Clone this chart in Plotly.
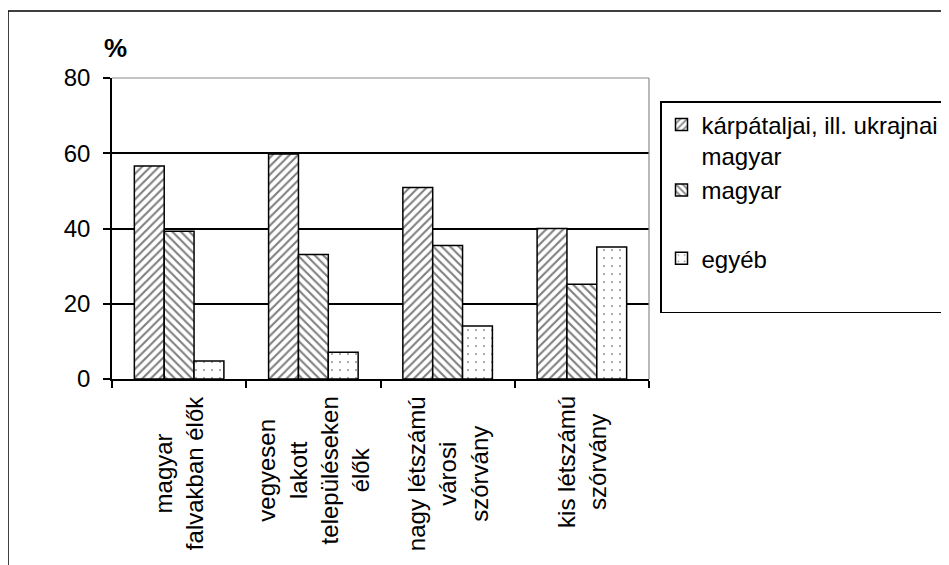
import plotly.graph_objects as go

# ---- data ----
categories = [
    "magyar<br>falvakban élők",
    "vegyesen<br>lakott<br>településeken<br>élők",
    "nagy létszámú<br>városi<br>szórvány",
    "kis létszámú<br>szórvány",
]
series_names = ["kárpátaljai, ill. ukrajnai<br>magyar", "magyar", "egyéb<br> "]
karpataljai = [56.6, 59.8, 50.9, 40.0]
magyar = [39.3, 33.1, 35.5, 25.2]
egyeb = [4.8, 7.1, 14.1, 35.1]
y_ticks = [0, 20, 40, 60, 80]

FONT = "Liberation Sans, Arial, sans-serif"
W, H = 949, 565
OFF = 8  # page body margin offset
# plot area in reference pixel coords: x 112..649, y 78..379
PX0, PX1, PY0, PY1 = 112, 649, 78, 379
PW, PH = PX1 - PX0, PY1 - PY0
L, T = PX0 - OFF, PY0 - OFF
R, B = W - L - PW, H - T - PH

def px_x(px):
    return (px - PX0) / PW

def px_y(py):
    return (PY1 - py) / PH

patterns = [
    dict(shape="/", fgcolor="black", bgcolor="white", size=6, solidity=0.35),
    dict(shape="\\", fgcolor="black", bgcolor="white", size=6, solidity=0.35),
    dict(shape=".", fgcolor="#222", bgcolor="white", size=8, solidity=0.05),
]
values = [karpataljai, magyar, egyeb]
groups = ["g1", "g1", "g2"]

fig = go.Figure()
for name, vals, pat, grp in zip(series_names, values, patterns, groups):
    fig.add_trace(go.Bar(
        x=categories, y=vals, name=name, legendgroup=grp,
        marker=dict(color="white", pattern=pat, line=dict(color="black", width=1.5)),
    ))

# x-axis category labels (rotated, centered lines)
for c in categories:
    fig.add_annotation(
        x=c, y=0, xref="x", yref="y", text=c, showarrow=False,
        textangle=-90, align="center", xanchor="center", yanchor="top",
        yshift=-15, font=dict(family=FONT, size=24, color="black"),
    )

# "%" label
fig.add_annotation(
    x=px_x(115), y=px_y(48), xref="paper", yref="paper", text="<b>%</b>",
    showarrow=False, xanchor="center", yanchor="middle",
    font=dict(family=FONT, size=26, color="black"),
)

shapes = [
    # outer chart border
    dict(type="rect", xref="paper", yref="paper", x0=px_x(8), x1=2, y0=-1, y1=px_y(11),
         line=dict(color="black", width=1.5), fillcolor="rgba(0,0,0,0)", layer="below"),
    # plot area frame (top / right, gray)
    dict(type="line", xref="paper", yref="paper", x0=0, x1=1, y0=1, y1=1,
         line=dict(color="#8a8a8a", width=1.2), layer="above"),
    dict(type="line", xref="paper", yref="paper", x0=1, x1=1, y0=0, y1=1,
         line=dict(color="#8a8a8a", width=1.2), layer="above"),
]

fig.update_layout(
    width=W, height=H,
    margin=dict(l=L, r=R, t=T, b=B, autoexpand=False),
    paper_bgcolor="white", plot_bgcolor="white",
    font=dict(family=FONT, size=24, color="black"),
    barmode="group", bargap=0.333, bargroupgap=0,
    showlegend=True,
    legend=dict(
        x=px_x(660), y=px_y(101), xanchor="left", yanchor="top",
        bordercolor="black", borderwidth=1.5, bgcolor="white",
        font=dict(family=FONT, size=24, color="black"),
        valign="top", tracegroupgap=34,
    ),
    shapes=shapes,
    xaxis=dict(
        type="category", tickson="boundaries", ticks="outside", ticklen=7,
        tickcolor="black", tickwidth=1.5, showticklabels=False,
        showline=True, linecolor="black", linewidth=1.5, showgrid=False,
        zeroline=False,
    ),
    yaxis=dict(
        range=[0, 80], tickvals=y_ticks, ticks="outside", ticklen=7,
        tickcolor="black", tickwidth=1.5, showline=True, linecolor="black",
        linewidth=1.5, showgrid=True, gridcolor="black", gridwidth=1.5,
        zeroline=False, ticklabelstandoff=8,
        tickfont=dict(family=FONT, size=24, color="black"),
    ),
)

fig.write_html("out.html")
